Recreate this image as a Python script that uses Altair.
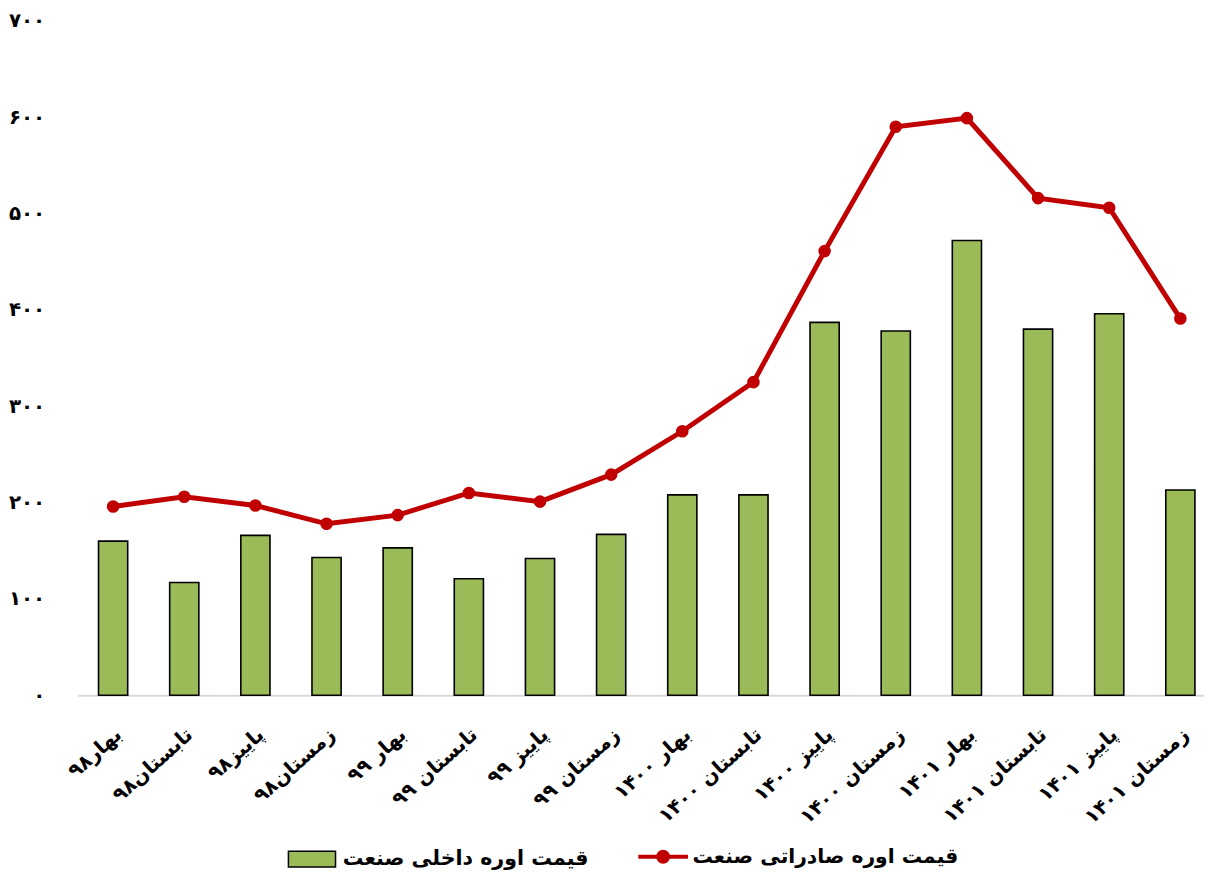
import altair as alt
import pandas as pd

seasons = ["بهار۹۸", "تابستان۹۸", "پاییز۹۸", "زمستان۹۸",
           "بهار ۹۹", "تابستان ۹۹", "پاییز ۹۹", "زمستان ۹۹",
           "بهار ۱۴۰۰", "تابستان ۱۴۰۰", "پاییز ۱۴۰۰", "زمستان ۱۴۰۰",
           "بهار ۱۴۰۱", "تابستان ۱۴۰۱", "پاییز ۱۴۰۱", "زمستان ۱۴۰۱"]
domestic = [160, 117, 166, 143, 153, 121, 142, 167, 208, 208, 387, 378, 472, 380, 396, 213]
export = [196, 206, 197, 178, 187, 210, 201, 229, 274, 325, 461, 590, 599, 516, 506, 391]
y_ticks = [0, 100, 200, 300, 400, 500, 600, 700]
y_tick_labels = ["۰", "۱۰۰", "۲۰۰", "۳۰۰", "۴۰۰", "۵۰۰", "۶۰۰", "۷۰۰"]
domestic_name = "قیمت اوره داخلی صنعت"
export_name = "قیمت اوره صادراتی صنعت"

GREEN = "#9BBB59"
RED = "#C00000"
FONT = "DejaVu Sans"

df = pd.DataFrame({
    "season": seasons,
    "domestic": domestic,
    "export": export,
    "dn": [domestic_name] * len(seasons),
    "en": [export_name] * len(seasons),
})

label_expr = "[" + ",".join("'" + s + "'" for s in y_tick_labels) + "][round(datum.value/100)]"

x_enc = alt.X(
    "season:N", sort=seasons, title=None,
    scale=alt.Scale(paddingInner=0.59, paddingOuter=0.295),
    axis=alt.Axis(labelAngle=-42, labelFontSize=20, labelFontWeight="bold", labelFont=FONT,
                  labelPadding=29, labelOffset=-1, ticks=False, domainColor="#D9D9D9",
                  domainWidth=2, labelColor="black", labelLimit=300, grid=False),
)
y_scale = alt.Scale(domain=[0, 700], nice=False)
y_axis = alt.Axis(values=y_ticks, labelExpr=label_expr, grid=False, domain=False, ticks=False,
                  labelPadding=33, labelFontSize=20, labelFontWeight="bold", labelFont=FONT,
                  labelColor="black", title=None)

bars = alt.Chart(df).mark_bar(stroke="black", strokeWidth=1.6).encode(
    x=x_enc,
    y=alt.Y("domestic:Q", scale=y_scale, axis=y_axis),
    fill=alt.Fill("dn:N", scale=alt.Scale(domain=[domestic_name], range=[GREEN]),
                  legend=alt.Legend(orient="none", legendX=219, legendY=827, title=None,
                                    symbolType="M-1.5,-0.5H1.5V0.5H-1.5Z", symbolSize=1000,
                                    symbolStrokeColor="black", symbolStrokeWidth=1.5,
                                    labelOffset=14, labelFontSize=20.7, labelFontWeight="bold",
                                    labelFont=FONT, labelColor="black", labelLimit=400,
                                    padding=0)),
)

line = alt.Chart(df).mark_line(strokeWidth=5).encode(
    x=x_enc,
    y=alt.Y("export:Q", scale=y_scale),
    stroke=alt.Stroke("en:N", scale=alt.Scale(domain=[export_name], range=[RED]),
                      legend=alt.Legend(orient="none", legendX=575, legendY=827, title=None,
                                        symbolType="M-2,0H2M0.4,0A0.4,0.4 0 1,1 -0.4,0A0.4,0.4 0 1,1 0.4,0Z",
                                        symbolSize=625, symbolStrokeWidth=4,
                                        symbolFillColor=RED, labelOffset=15,
                                        labelFontSize=20.4, labelFontWeight="bold",
                                        labelFont=FONT, labelColor="black", labelLimit=400,
                                        padding=0)),
)

points = alt.Chart(df).mark_circle(size=160, color=RED, opacity=1).encode(
    x=x_enc,
    y=alt.Y("export:Q", scale=y_scale),
)

chart = alt.layer(bars, line, points).resolve_scale(fill="independent", stroke="independent").properties(
    width=1146, height=679,
    autosize=alt.AutoSizeParams(type="none"),
    padding={"left": 70, "top": 10, "right": -12, "bottom": 176},
    background="white",
).configure_view(stroke=None)

chart.save("out.html", embed_options={"renderer": "svg", "actions": False})
